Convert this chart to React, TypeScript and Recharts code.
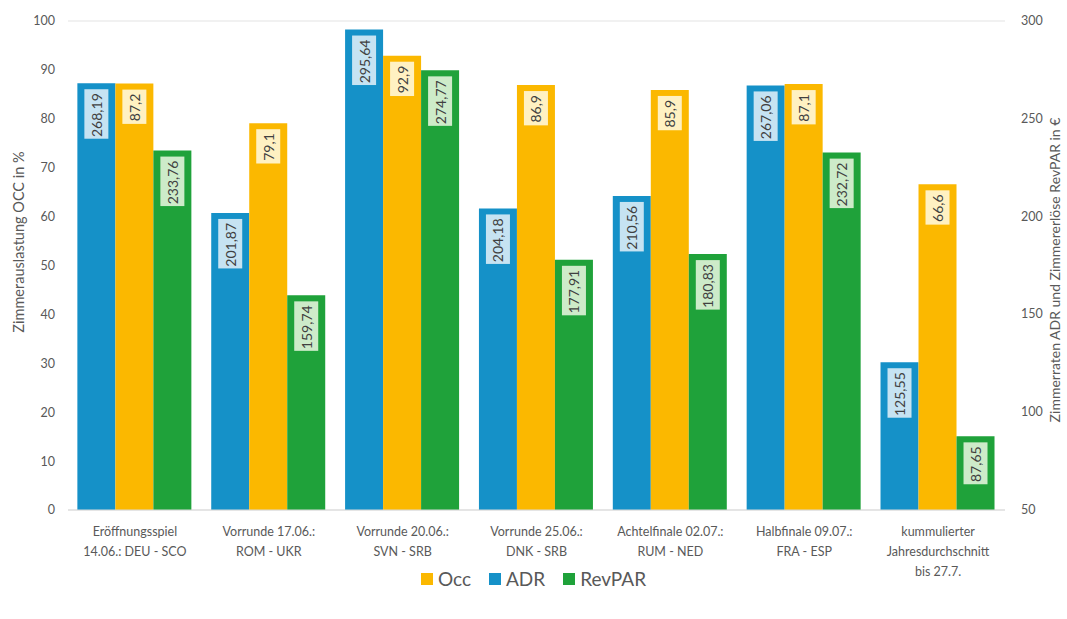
import React from "react";
import {
  BarChart,
  Bar,
  XAxis,
  YAxis,
  CartesianGrid,
  Legend,
  LabelList,
} from "recharts";

const categories = [
  "Eröffnungsspiel\n14.06.: DEU - SCO",
  "Vorrunde 17.06.:\nROM - UKR",
  "Vorrunde 20.06.:\nSVN - SRB",
  "Vorrunde 25.06.:\nDNK - SRB",
  "Achtelfinale 02.07.:\nRUM - NED",
  "Halbfinale 09.07.:\nFRA - ESP",
  "kummulierter\nJahresdurchschnitt\nbis 27.7.",
];

const adr = [268.19, 201.87, 295.64, 204.18, 210.56, 267.06, 125.55];
const occ = [87.2, 79.1, 92.9, 86.9, 85.9, 87.1, 66.6];
const revpar = [233.76, 159.74, 274.77, 177.91, 180.83, 232.72, 87.65];

const leftTicks = [0, 10, 20, 30, 40, 50, 60, 70, 80, 90, 100];
const rightTicks = [50, 75, 100, 125, 150, 175, 200, 225, 250, 275, 300];

const legendItems = [
  { name: "Occ", color: "#FBB800" },
  { name: "ADR", color: "#1591C8" },
  { name: "RevPAR", color: "#1FA23A" },
];

const data = categories.map((name, i) => ({
  name,
  adr: adr[i],
  occ: occ[i],
  revpar: revpar[i],
}));

const FONT = "Lato, 'Open Sans', sans-serif";
const GREY = "#595959";

const fmt = (v: number) => String(v).replace(".", ",");

const makeLabel = (boxFill: string) => (props: any) => {
  const { x, y, width, value } = props;
  const text = fmt(Number(value));
  const digits = text.replace(",", "").length;
  const len = digits * 7.6 + 3.5;
  const cx = x + width / 2;
  const top = y + 6;
  const h = len + 8;
  return (
    <g>
      <rect x={cx - 12} y={top} width={24} height={h} fill={boxFill} />
      <text
        x={cx}
        y={top + 4}
        transform={`rotate(-90, ${cx}, ${top + 4})`}
        textAnchor="end"
        dominantBaseline="central"
        fontSize={14}
        fontFamily={FONT}
        fill="#404040"
      >
        {text}
      </text>
    </g>
  );
};

const CategoryTick = (props: any) => {
  const { x, y, payload } = props;
  const lines = String(payload.value).split("\n");
  return (
    <text
      x={x}
      y={y + 8}
      textAnchor="middle"
      fontSize={12.5}
      fontFamily={FONT}
      fill={GREY}
    >
      {lines.map((l, i) => (
        <tspan key={i} x={x} dy={i === 0 ? 10 : 20}>
          {l}
        </tspan>
      ))}
    </text>
  );
};

// rotated axis title, cx/cy are the text centre
const axisTitle = (text: string, cx: number, cy: number, size: number) => () => (
  <text
    x={cx}
    y={cy}
    transform={`rotate(-90, ${cx}, ${cy})`}
    textAnchor="middle"
    dominantBaseline="central"
    fontSize={size}
    fill={GREY}
    fontFamily={FONT}
  >
    {text}
  </text>
);

const renderLegend = () => (
  <div
    style={{
      display: "flex",
      justifyContent: "center",
      gap: 18,
      fontFamily: FONT,
      fontSize: 19,
      color: GREY,
    }}
  >
    {legendItems.map((item) => (
      <div key={item.name} style={{ display: "flex", alignItems: "center", gap: 5 }}>
        <div style={{ width: 12, height: 12, backgroundColor: item.color }} />
        <span>{item.name}</span>
      </div>
    ))}
  </div>
);

export default function App() {
  return (
    <div style={{ position: "absolute", left: 0, top: 0, width: 1067, height: 619, background: "#fff" }}>
      <BarChart
        width={1067}
        height={619}
        data={data}
        margin={{ top: 21, right: 0, left: 0, bottom: 10 }}
        barCategoryGap="7%"
        barGap={0}
      >
        <CartesianGrid vertical={false} stroke="#E3E3E3" />
        <XAxis
          dataKey="name"
          tick={<CategoryTick />}
          tickLine={false}
          axisLine={{ stroke: "#D9D9D9" }}
          interval={0}
          height={76}
        />
        <YAxis
          yAxisId="left"
          domain={[0, 100]}
          ticks={leftTicks}
          width={68}
          tickLine={false}
          axisLine={false}
          tick={{ fontSize: 12.5, fill: GREY, fontFamily: FONT }}
          tickMargin={7}
          label={axisTitle("Zimmerauslastung  OCC in %", 18, 242, 14.5)}
        />
        <YAxis
          yAxisId="right"
          orientation="right"
          domain={[50, 300]}
          ticks={rightTicks}
          width={62}
          tickLine={false}
          axisLine={false}
          tick={(p: any) =>
            p.payload.value % 50 === 0 ? (
              <text x={p.x + 8} y={p.y} dy={4} fontSize={12.5} fill={GREY} fontFamily={FONT}>
                {p.payload.value}
              </text>
            ) : (
              <g />
            )
          }
          label={axisTitle("Zimmerraten ADR und Zimmererlöse RevPAR in €", 1054, 270, 14)}
        />
        <Legend verticalAlign="bottom" content={renderLegend} wrapperStyle={{ bottom: 29 }} />
        <Bar yAxisId="right" dataKey="adr" name="ADR" fill="#1591C8" isAnimationActive={false}>
          <LabelList dataKey="adr" content={makeLabel("#C6E3F2")} />
        </Bar>
        <Bar yAxisId="left" dataKey="occ" name="Occ" fill="#FBB800" isAnimationActive={false}>
          <LabelList dataKey="occ" content={makeLabel("#FFF1C2")} />
        </Bar>
        <Bar yAxisId="right" dataKey="revpar" name="RevPAR" fill="#1FA23A" isAnimationActive={false}>
          <LabelList dataKey="revpar" content={makeLabel("#CDEBC9")} />
        </Bar>
      </BarChart>
    </div>
  );
}
